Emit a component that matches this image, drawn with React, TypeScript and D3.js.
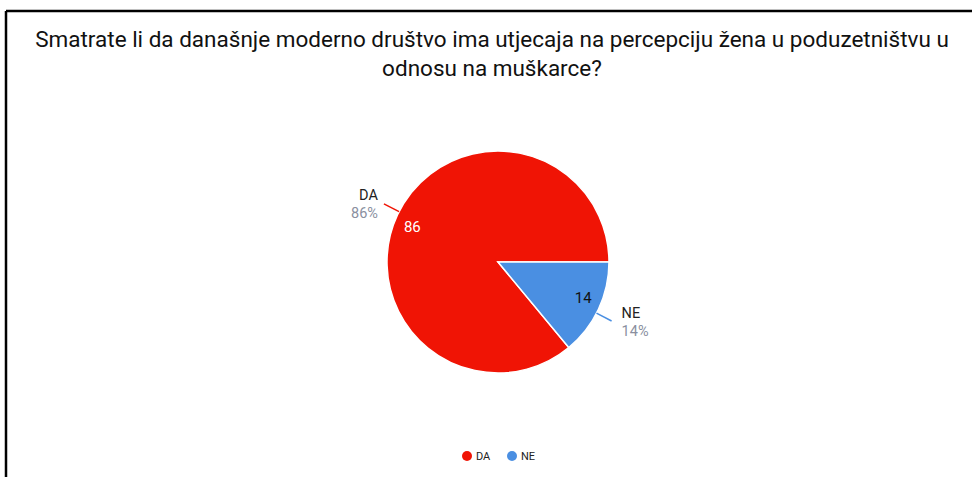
import React from "react";
import * as d3 from "d3";

const categories = ["DA", "NE"];
const values = [86, 14];
const percentLabels = ["86%", "14%"];
const colors = ["#f01405", "#4a8fe2"];
const titleLines = [
  "Smatrate li da današnje moderno društvo ima utjecaja na percepciju žena u poduzetništvu u",
  "odnosu na muškarce?",
];

const W = 972;
const H = 477;

export default function App() {
  const cx = 498;
  const cy = 262;
  const r = 111;
  const start = Math.PI / 2 + (values[1] / d3.sum(values)) * 2 * Math.PI;
  const pie = d3
    .pie<number>()
    .sort(null)
    .startAngle(start)
    .endAngle(start + 2 * Math.PI);
  const arcs = pie(values);
  const arc = d3.arc<d3.PieArcDatum<number>>().innerRadius(0).outerRadius(r);

  const labelAngleFor = (i: number) => (i === 0 ? -1.1 : 2.05);

  return (
    <svg
      width={W}
      height={H}
      style={{ position: "fixed", left: 0, top: 0, background: "#fff" }}
      fontFamily="Roboto, 'Noto Sans', sans-serif"
    >
      <rect x={0} y={0} width={W} height={H} fill="#fff" />
      <line x1={6} y1={11} x2={W} y2={11} stroke="#000" strokeWidth={2.5} />
      <line x1={6} y1={11} x2={6} y2={H} stroke="#000" strokeWidth={2.5} />
      {titleLines.map((t, i) => (
        <text
          key={i}
          x={492}
          y={47 + i * 29}
          textAnchor="middle"
          fontSize={22.5}
          fontFamily="Roboto, 'Liberation Sans', Arial, sans-serif"
          fill="#111"
        >
          {t}
        </text>
      ))}
      <g transform={`translate(${cx},${cy})`}>
        {arcs.map((a, i) => (
          <path key={i} d={arc(a) || ""} fill={colors[i]} stroke="#fff" strokeWidth={1.5} />
        ))}
        {arcs.map((a, i) => {
          const ang = labelAngleFor(i);
          const x0 = Math.sin(ang) * r;
          const y0 = -Math.cos(ang) * r;
          const x1 = Math.sin(ang) * (r + 17);
          const y1 = -Math.cos(ang) * (r + 17);
          const left = x1 < 0;
          const tx = x1 + (left ? -6 : 10);
          const ty = y1;
          return (
            <g key={"l" + i}>
              <line x1={x0} y1={y0} x2={x1} y2={y1} stroke={colors[i]} strokeWidth={1.5} />
              <text
                x={tx}
                y={ty - 3.5}
                textAnchor={left ? "end" : "start"}
                fontSize={14.5}
                fill="#222"
              >
                {categories[i]}
              </text>
              <text
                x={tx}
                y={ty + 14.5}
                textAnchor={left ? "end" : "start"}
                fontSize={14.5}
                fill="#8a8fa0"
              >
                {percentLabels[i]}
              </text>
            </g>
          );
        })}
        {arcs.map((a, i) => {
          const ang = i === 0 ? -1.184 : 1.97;
          const rr = 92.5;
          return (
            <text
              key={"v" + i}
              x={Math.sin(ang) * rr}
              y={-Math.cos(ang) * rr}
              textAnchor="middle"
              dominantBaseline="central"
              fontSize={15}
              fill={i === 0 ? "#fff" : "#111"}
            >
              {values[i]}
            </text>
          );
        })}
      </g>
      <g transform="translate(0,456)">
        {categories.map((c, i) => (
          <g key={c} transform={`translate(${467 + i * 45},0)`}>
            <circle cx={0} cy={0} r={5} fill={colors[i]} />
            <text x={9} y={0} dominantBaseline="central" fontSize={11} fill="#222">
              {c}
            </text>
          </g>
        ))}
      </g>
    </svg>
  );
}
